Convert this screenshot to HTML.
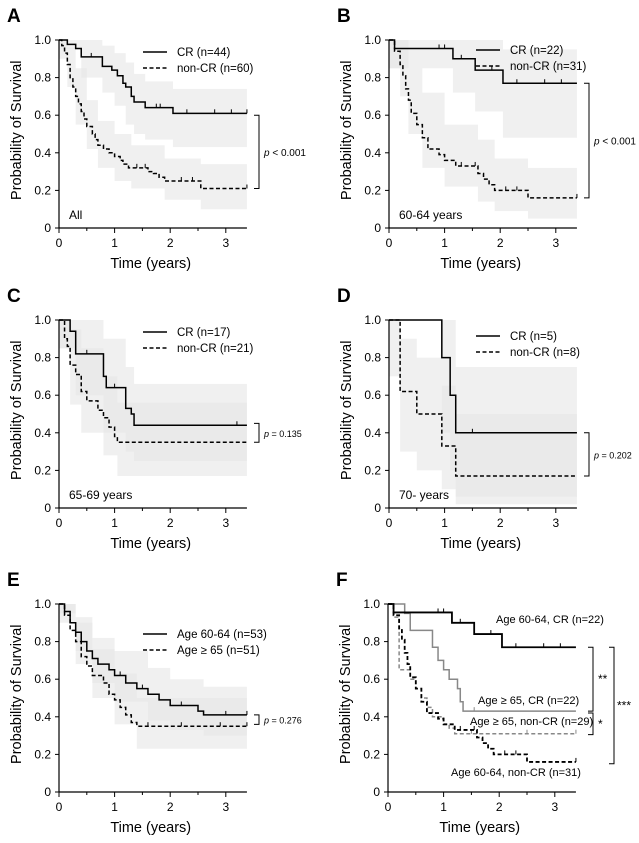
<!DOCTYPE html>
<html><head><meta charset="utf-8">
<style>
html,body{margin:0;padding:0;background:#fff;}
svg{display:block;font-family:"Liberation Sans",Arial,sans-serif;}
</style></head>
<body>
<svg id="fig" width="639" height="843" viewBox="0 0 639 843"></svg>
<script>
// ---- data ----
const xTicks=[0,1,2,3];
const yTicks=[0,0.2,0.4,0.6,0.8,1.0];
const yTickLabels=["0","0.2","0.4","0.6","0.8","1.0"];
// Panel A
const aCR_t=[0,0.15,0.3,0.4,0.78,0.95,1.05,1.15,1.2,1.3,1.35,1.55,2.05];
const aCR_s=[1,0.977,0.955,0.91,0.86,0.84,0.81,0.77,0.75,0.70,0.67,0.64,0.61];
const aCR_c=[0.58,1.75,1.82,2.3,2.8,3.1,3.38];
const aCR_bt=[0,0.4,0.78,1.0,1.2,1.35,1.55,2.05];
const aCR_lo=[0.95,0.8,0.72,0.65,0.55,0.5,0.47,0.43];
const aCR_hi=[1,1,0.97,0.93,0.88,0.82,0.78,0.74];
const aNC_t=[0,0.05,0.1,0.15,0.2,0.25,0.3,0.35,0.4,0.45,0.5,0.6,0.65,0.7,0.8,0.9,1.0,1.1,1.15,1.25,1.6,1.7,1.8,1.9,2.55];
const aNC_s=[1,0.97,0.93,0.87,0.8,0.75,0.7,0.66,0.62,0.58,0.54,0.5,0.47,0.44,0.42,0.4,0.38,0.36,0.34,0.32,0.3,0.29,0.27,0.25,0.21];
const aNC_c=[1.4,1.55,2.2,2.4,3.38];
const aNC_bt=[0,0.15,0.3,0.5,0.7,1.0,1.3,1.9,2.55];
const aNC_lo=[0.9,0.75,0.55,0.42,0.32,0.25,0.21,0.15,0.1];
const aNC_hi=[1,0.96,0.85,0.68,0.57,0.5,0.44,0.37,0.34];
// Panel B
const bCR_t=[0,0.1,1.15,1.55,2.05];
const bCR_s=[1,0.955,0.9,0.84,0.77];
const bCR_c=[0.9,1.0,1.3,1.85,2.3,2.8,3.1];
const bCR_bt=[0,1.15,1.55,2.05];
const bCR_lo=[0.85,0.72,0.62,0.48];
const bCR_hi=[1,1,1,0.95];
const bNC_t=[0,0.1,0.2,0.25,0.3,0.35,0.4,0.5,0.6,0.7,0.9,1.0,1.2,1.6,1.7,1.8,1.9,2.5];
const bNC_s=[1,0.94,0.87,0.81,0.74,0.68,0.61,0.55,0.48,0.42,0.39,0.36,0.33,0.29,0.26,0.23,0.2,0.16];
const bNC_c=[1.3,1.55,2.1,2.3,3.38];
const bNC_bt=[0,0.2,0.35,0.6,1.0,1.6,1.9,2.5];
const bNC_lo=[0.85,0.7,0.5,0.32,0.22,0.14,0.09,0.05];
const bNC_hi=[1,1,0.85,0.72,0.55,0.47,0.37,0.32];
// Panel C
const cCR_t=[0,0.2,0.3,0.8,0.85,1.2,1.3,1.35];
const cCR_s=[1,0.94,0.82,0.7,0.64,0.53,0.5,0.44];
const cCR_c=[0.5,1.0,3.2];
const cCR_bt=[0,0.3,0.8,1.2,1.35];
const cCR_lo=[0.85,0.6,0.4,0.3,0.25];
const cCR_hi=[1,1,0.9,0.75,0.66];
const cNC_t=[0,0.1,0.15,0.2,0.3,0.4,0.5,0.7,0.8,0.9,1.0,1.05];
const cNC_s=[1,0.9,0.86,0.76,0.71,0.62,0.57,0.52,0.48,0.43,0.38,0.35];
const cNC_c=[];
const cNC_bt=[0,0.2,0.4,0.8,1.05];
const cNC_lo=[0.85,0.55,0.4,0.28,0.17];
const cNC_hi=[1,0.95,0.85,0.7,0.56];
// Panel D
const dCR_t=[0,0.95,1.1,1.2];
const dCR_s=[1,0.8,0.6,0.4];
const dCR_c=[1.5];
const dCR_bt=[0,0.95,1.1,1.2];
const dCR_lo=[1,0.4,0.2,0.06];
const dCR_hi=[1,1,1,0.75];
const dNC_t=[0,0.2,0.5,0.95,1.2];
const dNC_s=[1,0.62,0.5,0.33,0.17];
const dNC_c=[];
const dNC_bt=[0,0.2,0.5,0.95,1.2];
const dNC_lo=[0.7,0.3,0.2,0.1,0.02];
const dNC_hi=[1,0.9,0.8,0.65,0.5];
// Panel E
const eY_t=[0,0.1,0.2,0.3,0.4,0.5,0.6,0.7,0.9,1.0,1.2,1.4,1.6,1.8,2.0,2.5,2.6];
const eY_s=[1,0.96,0.9,0.85,0.8,0.75,0.71,0.68,0.65,0.62,0.58,0.55,0.52,0.49,0.46,0.43,0.41];
const eY_c=[1.1,1.5,2.2,3.0,3.38];
const eY_bt=[0,0.3,0.6,1.0,1.6,2.0,2.6];
const eY_lo=[0.95,0.75,0.58,0.48,0.38,0.33,0.3];
const eY_hi=[1,0.93,0.82,0.75,0.66,0.6,0.56];
const eO_t=[0,0.1,0.2,0.3,0.4,0.5,0.6,0.8,0.9,1.0,1.1,1.2,1.3,1.4];
const eO_s=[1,0.94,0.86,0.8,0.72,0.67,0.62,0.58,0.52,0.49,0.45,0.41,0.37,0.35];
const eO_c=[1.6,2.2,2.9,3.38];
const eO_bt=[0,0.3,0.6,1.0,1.4];
const eO_lo=[0.9,0.68,0.5,0.36,0.23];
const eO_hi=[1,0.9,0.76,0.63,0.5];
// Panel F
const fGC_t=[0,0.3,0.4,0.8,0.9,1.0,1.1,1.25,1.3,1.35];
const fGC_s=[1,0.95,0.86,0.77,0.7,0.65,0.6,0.55,0.48,0.43];
const fGN_t=[0,0.1,0.2,0.4,0.5,0.6,0.7,0.8,1.0,1.1,1.2];
const fGN_s=[1,0.93,0.65,0.6,0.55,0.5,0.45,0.4,0.36,0.34,0.31];

// ---- drawing ----
const NS="http://www.w3.org/2000/svg";
const svg=document.getElementById('fig');
function el(tag,attrs,parent){const e=document.createElementNS(NS,tag);for(const k in attrs)e.setAttribute(k,attrs[k]);(parent||svg).appendChild(e);return e;}
function txt(str,attrs,parent){const e=el('text',attrs,parent);e.textContent=str;return e;}
const TMAX=3.38;
function panel(id,ox,oy,letter){
  const g=el('g',{});
  
  
  const P={g,ox,oy,sx:55.6,sy:188};
  P.X=t=>ox+t*P.sx; P.Y=s=>oy-s*P.sy;
  const L=txt(letter,{x:ox-52,y:oy-206,'font-size':19,'font-weight':'bold'},g);
  
  
  return P;
}
function axes(P){
  const g=el('g',{},P.g);
  
  
  el('line',{x1:P.X(0),y1:P.Y(0),x2:P.X(TMAX),y2:P.Y(0),stroke:'#000','stroke-width':1.2},g);
  el('line',{x1:P.X(0),y1:P.Y(0),x2:P.X(0),y2:P.Y(1),stroke:'#000','stroke-width':1.2},g);
  yTicks.forEach((v,i)=>{
    el('line',{x1:P.X(0)-4,y1:P.Y(v),x2:P.X(0),y2:P.Y(v),stroke:'#000'},g);
    const t=txt(yTickLabels[i],{x:P.X(0)-8,y:P.Y(v)+4,'font-size':12,'text-anchor':'end'},g);
    
    
  });
  for(let t=0;t<=3.01;t+=0.5){el('line',{x1:P.X(t),y1:P.Y(0),x2:P.X(t),y2:P.Y(0)+(t%1===0?5:3),stroke:'#000'},g);}
  xTicks.forEach(v=>{
    const t=txt(String(v),{x:P.X(v),y:P.Y(0)+19,'font-size':12,'text-anchor':'middle'},g);
    
    
  });
  const xt=txt('Time (years)',{x:P.X(1.65),y:P.Y(0)+40,'font-size':14.5,'text-anchor':'middle'},g);
  
  
  const cx=P.X(0)-38,cy=P.Y(0.52);
  const yt=txt('Probability of Survival',{x:cx,y:cy,'font-size':14.5,'text-anchor':'middle',transform:`rotate(-90 ${cx} ${cy})`},g);
  
  
}
function band(P,bt,lo,hi,name){
  let up='',dn='';
  for(let i=0;i<bt.length;i++){
    const t0=bt[i],t1=i+1<bt.length?bt[i+1]:TMAX;
    up+=(i?'L':'M')+P.X(t0)+' '+P.Y(hi[i])+' L'+P.X(t1)+' '+P.Y(hi[i])+' ';
  }
  for(let i=bt.length-1;i>=0;i--){
    const t0=bt[i],t1=i+1<bt.length?bt[i+1]:TMAX;
    dn+='L'+P.X(t1)+' '+P.Y(lo[i])+' L'+P.X(t0)+' '+P.Y(lo[i])+' ';
  }
  const p=el('path',{d:up+dn+'Z',fill:'#e6e6e6','fill-opacity':0.6},P.g);
  
  
}
function curve(P,ts,ss,cens,opt,name){
  let d='M'+P.X(0)+' '+P.Y(ss[0]);
  for(let i=1;i<ts.length;i++){d+=' L'+P.X(ts[i])+' '+P.Y(ss[i-1])+' L'+P.X(ts[i])+' '+P.Y(ss[i]);}
  d+=' L'+P.X(TMAX)+' '+P.Y(ss[ss.length-1]);
  const p=el('path',{d,fill:'none',stroke:opt.c||'#000','stroke-width':opt.w||1.5,'stroke-dasharray':opt.dash?'4 2.5':'none'},P.g);
  
  
  (cens||[]).forEach(c=>{
    let s=ss[0];for(let i=0;i<ts.length;i++)if(ts[i]<=c)s=ss[i];
    const m=el('line',{x1:P.X(c),y1:P.Y(s),x2:P.X(c),y2:P.Y(s)-4,stroke:opt.c||'#000','stroke-width':1},P.g);
    
    
  });
}
function legend(P,x,y,items){
  items.forEach((it,i)=>{
    el('line',{x1:x,y1:y+i*16,x2:x+24,y2:y+i*16,stroke:'#000','stroke-width':1.5,'stroke-dasharray':it[1]?'4 2.5':'none'},P.g);
    const t=txt(it[0],{x:x+34,y:y+i*16+4,'font-size':11.5},P.g);
    
    
  });
}
function bracket(P,x,s1,s2,label,lx,fs){
  const y1=P.Y(s1),y2=P.Y(s2);
  const b=el('path',{d:`M${x-5} ${y1} L${x} ${y1} L${x} ${y2} L${x-5} ${y2}`,fill:'none',stroke:'#000','stroke-width':1},P.g);
  
  
  const t=txt('',{x:lx,y:(y1+y2)/2+4,'font-size':fs||10},P.g);
  
  
  if(label.startsWith('p')){const i=el('tspan',{'font-style':'italic'},t);i.textContent='p';const r=el('tspan',{},t);r.textContent=label.slice(1);}
  else t.textContent=label;
}
function note(P,str,x,y,fs,name){const t=txt(str,{x,y,'font-size':fs||12},P.g);return t;}

// A
let P=panel('a',59,228,'A');
band(P,aCR_bt,aCR_lo,aCR_hi,'ci-band-cr');band(P,aNC_bt,aNC_lo,aNC_hi,'ci-band-non-cr');
axes(P);
curve(P,aCR_t,aCR_s,aCR_c,{},'curve-cr');curve(P,aNC_t,aNC_s,aNC_c,{dash:1},'curve-non-cr');
legend(P,143,52,[['CR (n=44)',0],['non-CR (n=60)',1]]);
bracket(P,259,0.6,0.21,'p < 0.001',264,10);
note(P,'All',69,219,12,'subgroup-label');
// B
P=panel('b',389,228,'B');
band(P,bCR_bt,bCR_lo,bCR_hi,'ci-band-cr');band(P,bNC_bt,bNC_lo,bNC_hi,'ci-band-non-cr');
axes(P);
curve(P,bCR_t,bCR_s,bCR_c,{},'curve-cr');curve(P,bNC_t,bNC_s,bNC_c,{dash:1},'curve-non-cr');
legend(P,476,50,[['CR (n=22)',0],['non-CR (n=31)',1]]);
bracket(P,589,0.77,0.16,'p < 0.001',594,10);
note(P,'60-64 years',399,219,12,'subgroup-label');
// C
P=panel('c',59,508,'C');
band(P,cCR_bt,cCR_lo,cCR_hi,'ci-band-cr');band(P,cNC_bt,cNC_lo,cNC_hi,'ci-band-non-cr');
axes(P);
curve(P,cCR_t,cCR_s,cCR_c,{},'curve-cr');curve(P,cNC_t,cNC_s,cNC_c,{dash:1},'curve-non-cr');
legend(P,143,332,[['CR (n=17)',0],['non-CR (n=21)',1]]);
bracket(P,259,0.45,0.35,'p = 0.135',264,9);
note(P,'65-69 years',69,499,12,'subgroup-label');
// D
P=panel('d',389,508,'D');
band(P,dCR_bt,dCR_lo,dCR_hi,'ci-band-cr');band(P,dNC_bt,dNC_lo,dNC_hi,'ci-band-non-cr');
axes(P);
curve(P,dCR_t,dCR_s,dCR_c,{},'curve-cr');curve(P,dNC_t,dNC_s,dNC_c,{dash:1},'curve-non-cr');
legend(P,476,336,[['CR (n=5)',0],['non-CR (n=8)',1]]);
bracket(P,589,0.4,0.17,'p = 0.202',594,9);
note(P,'70- years',399,499,12,'subgroup-label');
// E
P=panel('e',59,792,'E');
band(P,eY_bt,eY_lo,eY_hi,'ci-band-60-64');band(P,eO_bt,eO_lo,eO_hi,'ci-band-65-plus');
axes(P);
curve(P,eY_t,eY_s,eY_c,{},'curve-age-60-64');curve(P,eO_t,eO_s,eO_c,{dash:1},'curve-age-65-plus');
legend(P,143,634,[['Age 60-64 (n=53)',0],['Age ≥ 65 (n=51)',1]]);
bracket(P,259,0.41,0.36,'p = 0.276',264,9);
// F
P=panel('f',388,792,'F');
axes(P);
curve(P,fGN_t,fGN_s,[1.5,2.5,3.38],{dash:1,c:'#888'},'curve-65-non-cr');
curve(P,fGC_t,fGC_s,[1.55],{c:'#888'},'curve-65-cr');
curve(P,bNC_t,bNC_s,bNC_c,{dash:1,w:1.8},'curve-60-64-non-cr');
curve(P,bCR_t,bCR_s,bCR_c,{w:1.8},'curve-60-64-cr');
note(P,'Age 60-64, CR (n=22)',496,623,11,'series-label');
note(P,'Age ≥ 65, CR (n=22)',478,704,11,'series-label');
note(P,'Age ≥ 65, non-CR (n=29)',470,725,11,'series-label');
note(P,'Age 60-64, non-CR (n=31)',451,776,11,'series-label');
bracket(P,593,0.77,0.43,'**',598,12);
bracket(P,593,0.42,0.305,'*',598,12);
bracket(P,614,0.77,0.15,'***',617,12);
</script>
</body></html>
